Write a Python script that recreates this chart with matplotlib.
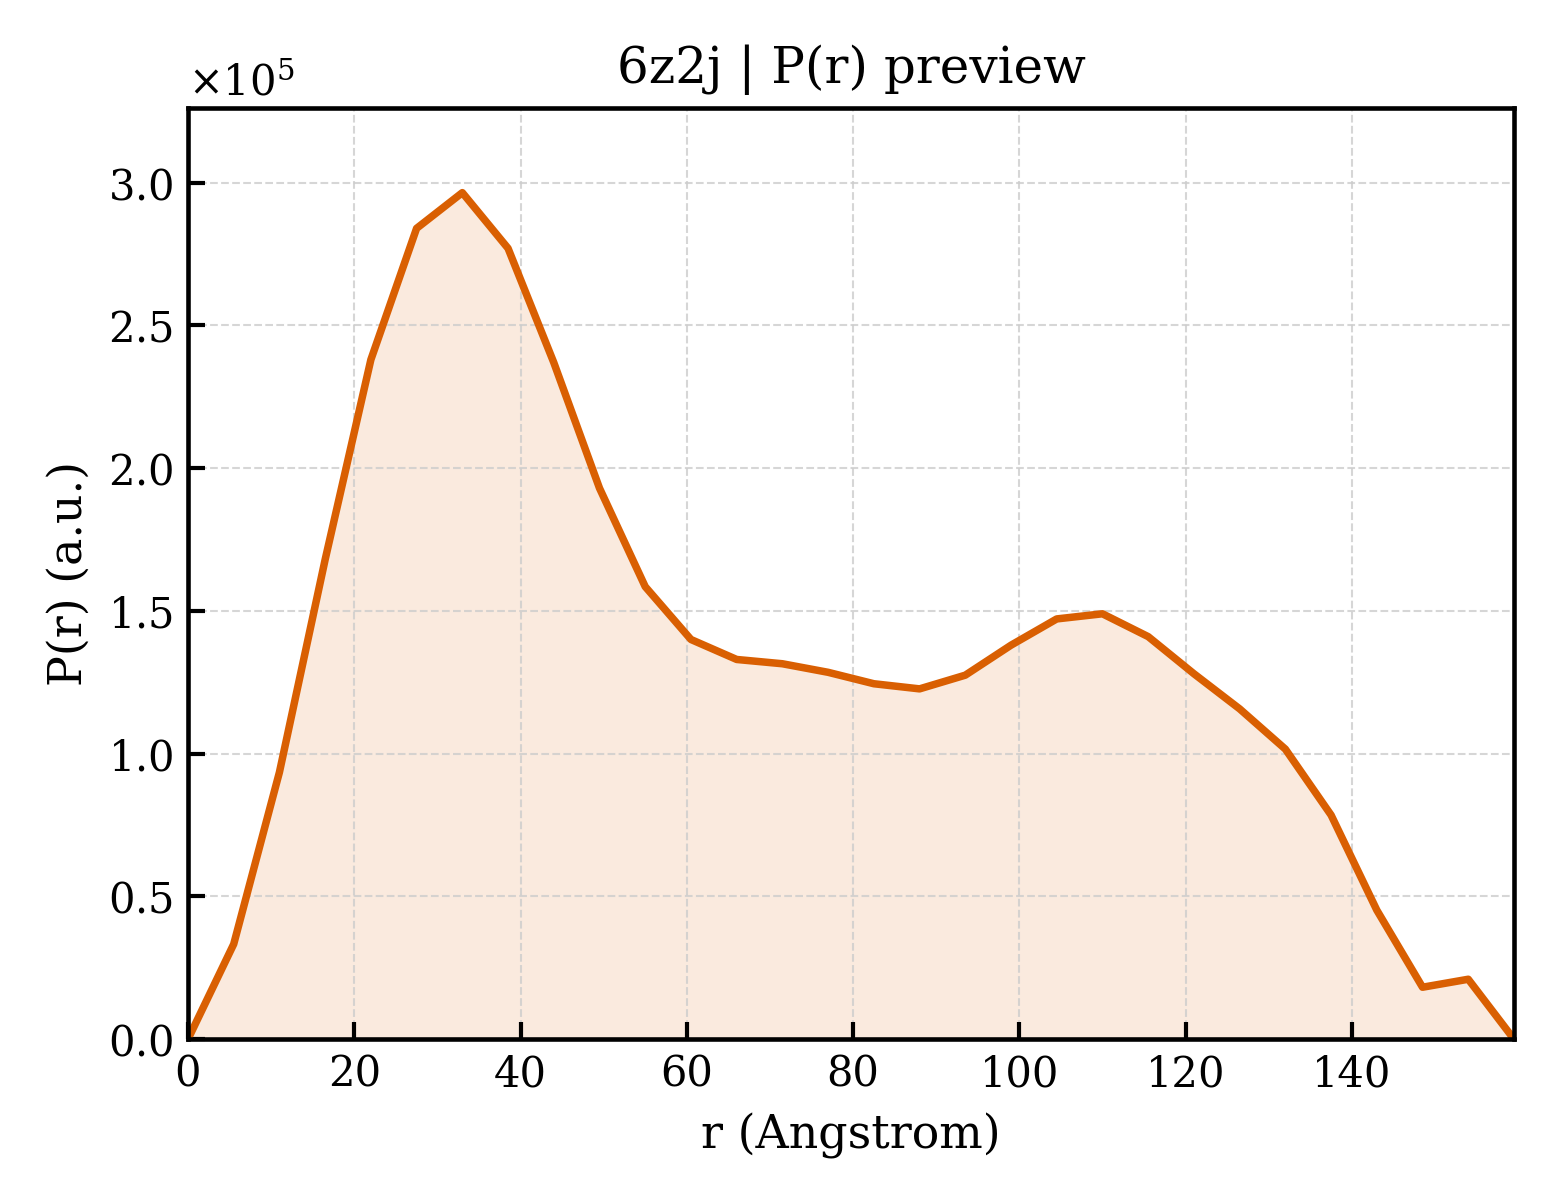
import matplotlib
matplotlib.use("Agg")
import matplotlib.pyplot as plt
import numpy as np

plt.rcParams["font.family"] = "DejaVu Serif"
plt.rcParams["mathtext.fontset"] = "dejavuserif"

r = np.linspace(0, 159.5, 30)
pr = np.array([
    0.0, 0.333, 0.935, 1.68, 2.38, 2.84, 2.965, 2.77, 2.37, 1.93,
    1.585, 1.40, 1.33, 1.315, 1.285, 1.245, 1.227, 1.275, 1.38, 1.472,
    1.49, 1.41, 1.28, 1.157, 1.016, 0.785, 0.452, 0.182, 0.21, 0.0,
]) * 1e5

title = "6z2j | P(r) preview"
color = "#d95f02"

fig = plt.figure(figsize=(5.2, 4), dpi=300)
ax = fig.add_axes([0.1205, 0.134, 0.85, 0.776])

ax.plot(r, pr, color=color, lw=1.8)
ax.fill_between(r, pr, 0, color=color, alpha=0.13, lw=0)

ax.set_xlim(0, r[-1])
ax.set_ylim(0, pr.max() * 1.1)
ax.set_xlabel("r (Angstrom)", fontsize=11)
ax.set_ylabel("P(r) (a.u.)", fontsize=11)
ax.set_title(title, fontsize=12)

ax.ticklabel_format(axis="y", style="sci", scilimits=(0, 0), useMathText=True)
ax.yaxis.get_offset_text().set_fontsize(10)
ax.tick_params(direction="in", labelsize=10, length=4, width=1)
ax.grid(True, ls="--", lw=0.5, color="#cccccc", alpha=0.8)
for s in ax.spines.values():
    s.set_linewidth(1.1)

fig.savefig("out.png", dpi=300)
